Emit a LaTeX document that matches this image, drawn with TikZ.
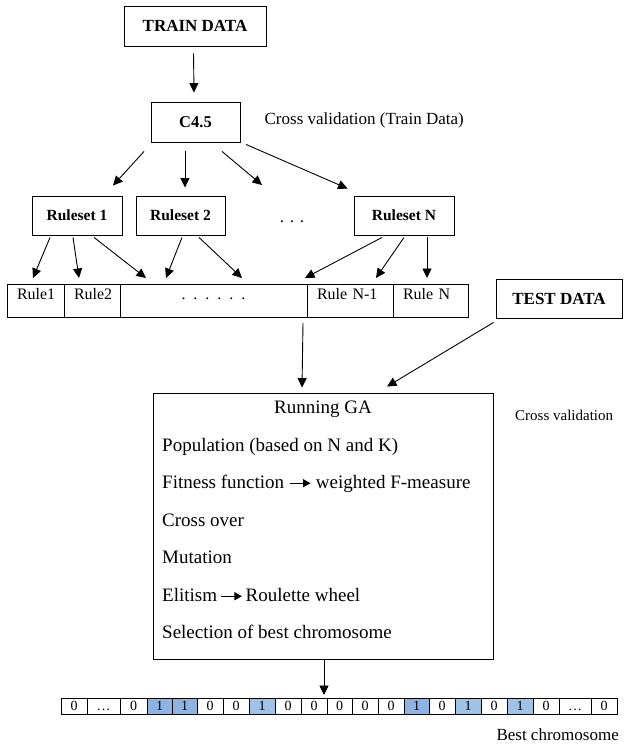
\documentclass[tikz,border=0pt]{standalone}
\usepackage{fontspec}
\setmainfont{Liberation Serif}
\usepackage{tikz}
\usetikzlibrary{positioning, arrows.meta, calc}

\definecolor{geneDark}{RGB}{141,179,226}
\definecolor{geneLight}{RGB}{157,195,230}
\newcommand{\thenarrow}{\tikz[baseline=-0.55ex]\draw[line width=1.3pt, -{Triangle[length=7.5pt, width=8pt]}] (0pt,0pt) -- (21pt,0pt);}

\begin{document}
\begin{tikzpicture}[x=1pt, y=-1pt,
    box/.style={draw, line width=0.9pt, inner sep=0pt, font=\bfseries\fontsize{17}{20}\selectfont},
    ruleset/.style={box, minimum height=39pt, font=\bfseries\fontsize{15.5}{18}\selectfont},
    cell/.style={draw, line width=0.9pt, anchor=north west, outer sep=0pt, inner xsep=10pt, inner ysep=4pt,
        text width=#1, text height=11pt, text depth=14pt, align=left, font=\fontsize{16}{19}\selectfont},
    gene/.style={draw, line width=0.9pt, anchor=north west, outer sep=0pt, inner sep=0pt,
        minimum width=#1, minimum height=16pt, text height=9.5pt, text depth=0pt, font=\fontsize{14}{16}\selectfont},
    note/.style={inner sep=0pt, font=\fontsize{17}{20}\selectfont},
    gatext/.style={inner sep=0pt, anchor=base west, font=\fontsize{19}{22}\selectfont},
    arrow/.style={-{Triangle[length=9.5pt, width=9pt]}, line width=0.9pt}
]
\useasboundingbox (0,0) rectangle (628,746);

% Train data and C4.5
\node[box, minimum width=142pt, minimum height=40pt] (train) at (195,26) {TRAIN DATA};
\node[box, minimum width=89pt, minimum height=40pt, font=\bfseries\fontsize{16.5}{19}\selectfont] (c45) at (195.5,122) {C4.5};
\node[note, right=24pt of c45, yshift=2pt] (cvtrain) {Cross validation (Train Data)};
\draw[arrow] ([xshift=-1.5pt, yshift=-7pt]train.south) -- ([xshift=-1.5pt, yshift=9pt]c45.north);

% Rulesets
\node[ruleset, minimum width=90pt] (rs1) at (77,215.5) {Ruleset 1};
\node[ruleset, minimum width=89pt] (rs2) at (180.5,215.5) {Ruleset 2};
\node[note] (rsdots) at (292,222) {. . .};
\node[ruleset, minimum width=100pt] (rsn) at (404,215.5) {Ruleset N};

% C4.5 to rulesets
\foreach \sx/\sy/\t/\tx/\ty in {-51.5/-9/rs1.north/36/10, -10.5/-9/rs2.north/4.5/8,
        26.5/-9/rsdots.center/-30/37, 50.5/-2/rsn.north west/-6/7}
    \draw[arrow] ([xshift=\sx pt, yshift=\sy pt]c45.south) -- ([xshift=\tx pt, yshift=\ty pt]\t);

% Rules row
\node[cell=37] (r1) at (7,284) {Rule1};
\node[cell=36] (r2) at (r1.north east) {Rule2};
\node[cell=167, align=center] (rdots) at (r2.north east) {. . . . . .};
\node[cell=66] (rn1) at (rdots.north east) {Rule N-1};
\node[cell=55] (rn) at (rn1.north east) {Rule N};

% Rulesets to rules
\foreach \s/\sx/\t/\tx in {rs1/-27/r1/-2.5, rs1/-4/r2/-13, rs1/17/rdots/-67.5, rs2/1.5/rdots/-47.5,
        rs2/18.5/rdots/28.5, rsn/-22/rdots/91.5, rsn/0/rn1/26, rsn/23/rn/-3.5}
    \draw[arrow] ([xshift=\sx pt, yshift=-2pt]\s.south) -- ([xshift=\tx pt, yshift=6pt]\t.north);

% Test data and GA
\node[box, minimum width=126pt, minimum height=39pt] (test) at (559,298.5) {TEST DATA};
\node[draw, line width=0.9pt, minimum width=340pt, minimum height=266pt] (ga) at (323,526) {};
\node[note, anchor=west, font=\fontsize{15}{18}\selectfont] (cvtest) at (515,415) {Cross validation};
\draw[arrow] ([xshift=-4pt, yshift=-6pt]rdots.south east) -- ([xshift=-21pt, yshift=5pt]ga.north);
\draw[arrow] ([xshift=-2pt, yshift=-4pt]test.south west) -- ([xshift=64pt, yshift=6pt]ga.north);

% Running GA steps
\node[gatext, anchor=base] (garun) at (323,413) {Running GA};
\foreach \y/\txt [count=\i] in {451/{Population (based on N and K)},
        488/{Fitness function \thenarrow\ weighted F-measure}, 526/{Cross over}, 563/{Mutation},
        601/{Elitism\,\thenarrow\,Roulette wheel}, 638/{Selection of best chromosome}}
    \node[gatext] (ga\i) at (162,\y) {\txt};

% Best chromosome
\foreach \x/\w/\v/\f [count=\i] in {61/26/0/white, 87/33/{\dots}/white, 120/27/0/white, 147/25/1/geneDark,
        172/25/1/geneDark, 197/26/0/white, 223/26/0/white, 249/26/1/geneLight, 275/26/0/white,
        301/26/0/white, 327/25/0/white, 352/26/0/white, 378/26/0/white, 404/25/1/geneDark,
        429/26/0/white, 455/26/1/geneLight, 481/26/0/white, 507/26/1/geneLight, 533/26/0/white,
        559/32/{\dots}/white, 591/26/0/white}
    \node[gene=\w pt, fill=\f] (g\i) at (\x,698) {\v};
\draw[arrow] ([xshift=1pt]ga.south) -- ([xshift=-3pt, yshift=3pt]g11.north west);
\node[note, anchor=east] (best) at (619,735) {Best chromosome};

\end{tikzpicture}
\end{document}
